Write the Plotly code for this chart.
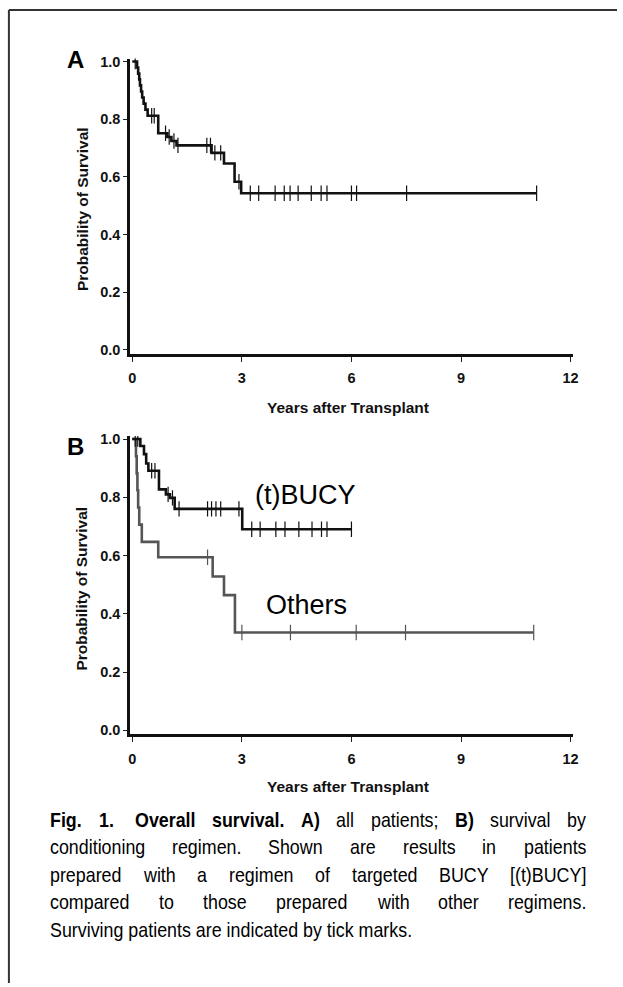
import plotly.graph_objects as go

# ---------------- data ----------------
# Panel A: all patients (step times in years, survival after each step)
a_time = [0.0, 0.13, 0.16, 0.19, 0.21, 0.24, 0.27, 0.31, 0.36, 0.42, 0.71, 0.96, 1.07, 1.21, 2.17, 2.51, 2.80, 2.98]
a_surv = [1.0, 0.979, 0.958, 0.938, 0.917, 0.896, 0.875, 0.854, 0.833, 0.812, 0.751, 0.738, 0.724, 0.709, 0.683, 0.646, 0.583, 0.543]
a_end = 11.07
a_cens = [0.08, 0.53, 0.60, 0.91, 1.01, 1.14, 1.25, 2.04, 2.14, 2.26, 2.42, 2.92,
          3.23, 3.46, 3.91, 4.16, 4.32, 4.54, 4.90, 5.17, 5.33, 6.00, 6.14, 7.51, 11.07]

# Panel B: (t)BUCY
b_time = [0.0, 0.22, 0.32, 0.38, 0.44, 0.73, 0.92, 1.03, 1.16, 3.01]
b_surv = [1.0, 0.976, 0.948, 0.916, 0.891, 0.827, 0.810, 0.798, 0.760, 0.690]
b_end = 6.0
b_cens = [0.08, 0.15, 0.53, 0.62, 0.98, 1.10, 1.28, 2.06, 2.17, 2.29, 2.42, 2.92,
          3.27, 3.50, 3.93, 4.18, 4.56, 4.92, 5.18, 5.33, 6.00]

# Panel B: Others
o_time = [0.0, 0.10, 0.12, 0.14, 0.16, 0.19, 0.26, 0.71, 2.20, 2.51, 2.81]
o_surv = [1.0, 0.941, 0.882, 0.824, 0.765, 0.706, 0.647, 0.594, 0.528, 0.464, 0.336]
o_end = 10.99
o_cens = [2.06, 3.00, 4.33, 6.13, 7.48, 10.99]

x_ticks = [0, 3, 6, 9, 12]
y_ticks = [0.0, 0.2, 0.4, 0.6, 0.8, 1.0]
y_ticktext = ["0.0", "0.2", "0.4", "0.6", "0.8", "1.0"]

# caption: justified lines, each a list of (word, bold); final line set ragged
caption_lines = [
    [("Fig.", True), ("1.", True), ("", True), ("Overall", True), ("survival.", True), ("A)", True),
     ("all", False), ("patients;", False), ("B)", True), ("survival", False), ("by", False)],
    [(w, False) for w in "conditioning regimen. Shown are results in patients".split(" ")],
    [(w, False) for w in "prepared with a regimen of targeted BUCY [(t)BUCY]".split(" ")],
    [(w, False) for w in "compared to those prepared with other regimens.".split(" ")],
]
caption_last = "Surviving patients are indicated by tick marks."

# ---------------- helpers ----------------
W, H = 623, 987
FONT = "Liberation Sans, Arial, Helvetica, sans-serif"
CAP = 21          # caption font size (px)
COND = 0.85       # horizontal condensing of the caption glyphs (narrow face)

AR = {' ': 278, '.': 278, ';': 278, '(': 333, ')': 333, '[': 278, ']': 278, '1': 556,
      'A': 667, 'B': 667, 'C': 722, 'F': 611, 'O': 778, 'S': 667, 'U': 722, 'Y': 667,
      'a': 556, 'b': 556, 'c': 500, 'd': 556, 'e': 556, 'f': 278, 'g': 556, 'h': 556, 'i': 222,
      'k': 500, 'l': 222, 'm': 833, 'n': 556, 'o': 556, 'p': 556, 'r': 333, 's': 500, 't': 278,
      'u': 556, 'v': 500, 'w': 722, 'x': 500, 'y': 500}
AB = dict(AR)
AB.update({'A': 722, 'B': 722, 'F': 611, 'O': 778, 'g': 611, 'i': 278, 'l': 278, 'r': 389,
           'u': 611, 'v': 556, 's': 556, 'a': 556, 'e': 556})


def text_w(s, bold, size):
    t = AB if bold else AR
    return sum(t.get(c, 556) for c in s) * size / 1000.0


def surv_at(times, survs, t):
    s = survs[0]
    for ti, si in zip(times, survs):
        if ti <= t:
            s = si
    return s


def px_x(p):
    return p / W


def px_y(p):
    return 1 - p / H


fig = go.Figure()


def add_curve(times, survs, end, cens, color, xa, ya):
    xs = list(times) + [end]
    ys = list(survs) + [survs[-1]]
    fig.add_trace(go.Scatter(x=xs, y=ys, mode="lines", line=dict(color=color, width=2.6, shape="hv"),
                             xaxis=xa, yaxis=ya, hoverinfo="skip"))
    fig.add_trace(go.Scatter(x=cens, y=[surv_at(times, survs, c) for c in cens], mode="markers",
                             marker=dict(symbol="line-ns", size=11, line=dict(color=color, width=1.2)),
                             xaxis=xa, yaxis=ya, hoverinfo="skip"))


add_curve(a_time, a_surv, a_end, a_cens, "#111111", "x", "y")
add_curve(o_time, o_surv, o_end, o_cens, "#555555", "x2", "y2")
add_curve(b_time, b_surv, b_end, b_cens, "#111111", "x2", "y2")

xdom = [px_x(130), px_x(578)]
xrange_ = [(130 - 132) / 37, (578 - 132) / 37]

TICKFONT = dict(family=FONT, size=14.5, color="#111", weight="bold")
common_x = dict(range=xrange_, domain=xdom, tickvals=x_ticks, ticks="outside", ticklen=5, tickwidth=1,
                tickcolor="#222", showline=True, linewidth=3, linecolor="#111", showgrid=False,
                zeroline=False, tickfont=TICKFONT, ticklabelstandoff=4)
common_y = dict(tickvals=y_ticks, ticktext=y_ticktext, ticks="outside", ticklen=4, tickwidth=1,
                tickcolor="#222", showline=True, linewidth=3, linecolor="#111", showgrid=False,
                zeroline=False, tickfont=TICKFONT, ticklabelstandoff=0)

fig.update_layout(
    width=W, height=H, margin=dict(l=0, r=0, t=0, b=0), paper_bgcolor="white", plot_bgcolor="white",
    showlegend=False,
    xaxis=dict(**common_x, anchor="y"),
    yaxis=dict(**common_y, domain=[px_y(352), px_y(54)], range=[-(352 - 348) / 291, 1 + (57 - 54) / 291],
               anchor="x"),
    xaxis2=dict(**common_x, anchor="y2"),
    yaxis2=dict(**common_y, domain=[px_y(736), px_y(435)], range=[-(736 - 732) / 294, 1 + (438 - 435) / 294],
                anchor="x2"),
)

ann = []
# panel letters
ann.append(dict(text="<b>A</b>", x=px_x(74), y=px_y(55), font=dict(family=FONT, size=24, color="black")))
ann.append(dict(text="<b>B</b>", x=px_x(74), y=px_y(446), font=dict(family=FONT, size=24, color="black")))
# axis titles
for yc in (206, 589):
    ann.append(dict(text="<b>Probability of Survival</b>", x=px_x(81), y=px_y(yc), textangle=-90,
                    font=dict(family=FONT, size=15.5, color="#111")))
for yc in (406, 789):
    ann.append(dict(text="<b>Years after Transplant</b>", x=px_x(350), y=px_y(yc),
                    font=dict(family=FONT, size=15.5, color="#111")))
# curve labels
ann.append(dict(text="(t)BUCY", x=px_x(307), y=px_y(495), font=dict(family=FONT, size=27, color="black")))
ann.append(dict(text="Others", x=px_x(308), y=px_y(606), font=dict(family=FONT, size=27, color="black")))

# caption, justified between x=48 and x=590
left, right = 48, 590
for i, words in enumerate(caption_lines):
    yc = px_y(822 + i * 27.7)
    widths = [text_w(w, b, CAP) * COND for w, b in words]
    n_gaps = len(words) - 1
    has_dbl = any(w == "" for w, _ in words)
    gap = (right - left - sum(widths)) / (n_gaps - 0.7 if has_dbl else n_gaps)
    x = left
    for (w, b), wd in zip(words, widths):
        if w:
            ann.append(dict(text=f"<b>{w}</b>" if b else w, x=px_x(x), y=yc, xanchor="left", align="left",
                            borderpad=0, font=dict(family=FONT, size=CAP, color="black")))
            x += wd + gap
        else:
            x += gap * 0.3
ann.append(dict(text=caption_last, x=px_x(left), y=px_y(822 + 4 * 27.7), xanchor="left", align="left",
                borderpad=0, font=dict(family=FONT, size=CAP, color="black")))

for a in ann:
    a.setdefault("xref", "paper")
    a.setdefault("yref", "paper")
    a.setdefault("showarrow", False)
    a.setdefault("xanchor", "center")
    a.setdefault("yanchor", "middle")
fig.update_layout(annotations=ann)

# outer frame (left and top edges visible)
fig.add_shape(type="line", xref="paper", yref="paper", x0=px_x(7), x1=px_x(7), y0=0, y1=px_y(5),
              line=dict(color="#333", width=2))
fig.add_shape(type="line", xref="paper", yref="paper", x0=px_x(7), x1=1, y0=px_y(5), y1=px_y(5),
              line=dict(color="#333", width=2))

post = """
document.body.style.margin='0';document.body.style.padding='0';
function condenseCaption(){
  document.querySelectorAll('text.annotation-text').forEach(function(t){
    if (t.getAttribute('data-cond')) return;
    var fs = t.style.fontSize || '';
    if (fs === '%dpx') {
      var L = t.getComputedTextLength();
      t.setAttribute('textLength', (L * %s).toFixed(2));
      t.setAttribute('lengthAdjust', 'spacingAndGlyphs');
      t.setAttribute('data-cond', '1');
    }
  });
}
condenseCaption();
setTimeout(condenseCaption, 30);
""" % (CAP, COND)

fig.write_html("out.html", config={"displayModeBar": False}, post_script=post)
